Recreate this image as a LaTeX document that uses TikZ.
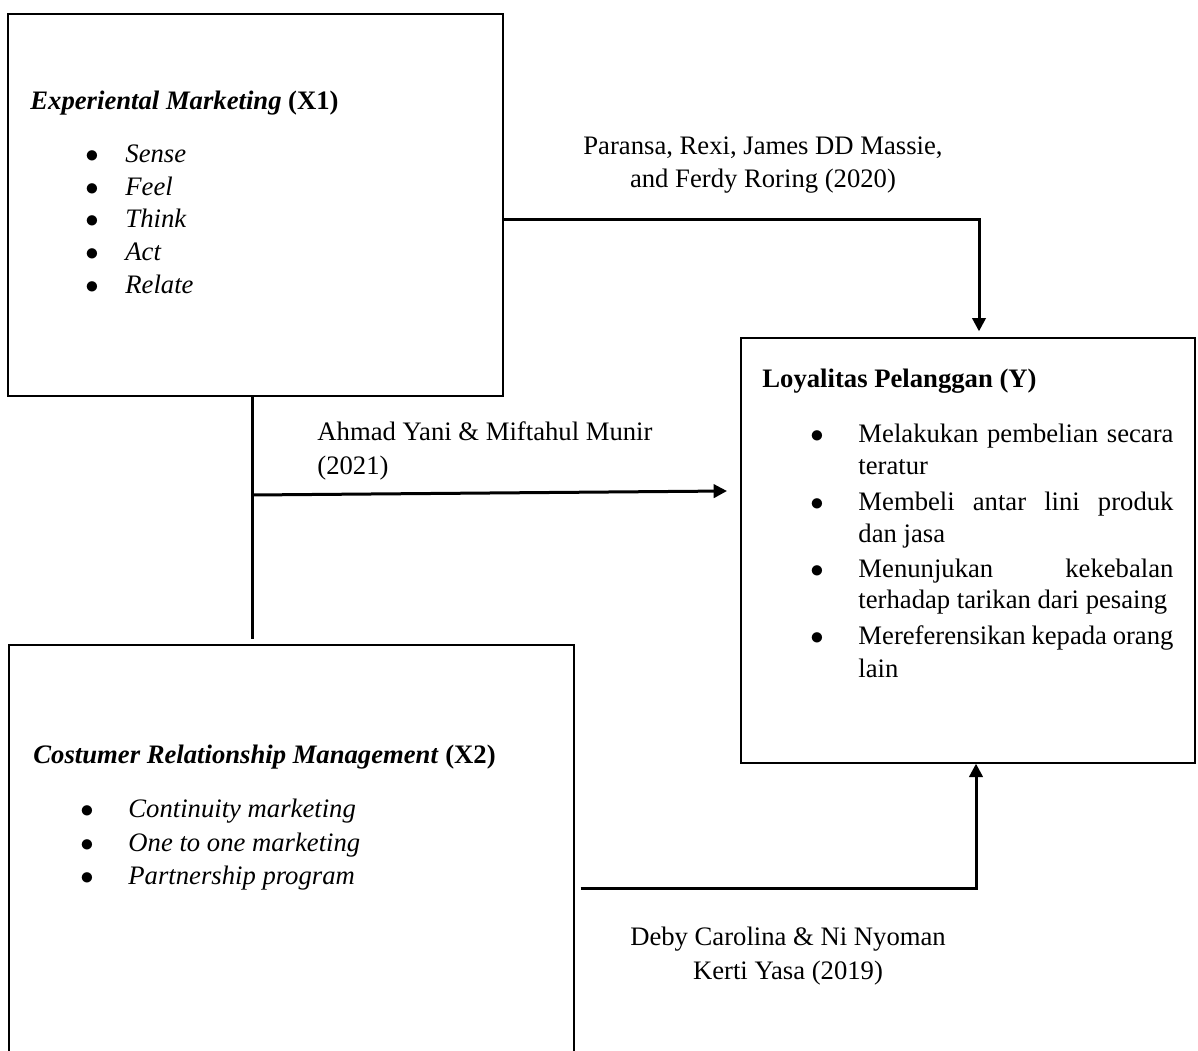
\documentclass[tikz,border=0pt]{standalone}
\usepackage{fontspec}
\setmainfont{Liberation Serif}
\usetikzlibrary{positioning,fit,calc,arrows.meta}

\begin{document}
\begin{tikzpicture}[x=0.45pt,y=-0.45pt,
                    every node/.style={font=\fontsize{12}{15}\selectfont},
                    var box/.style={draw,line width=0.6pt,inner sep=0pt},
                    txt/.style={anchor=base west,inner sep=0pt},
                    dot/.style={anchor=base,inner sep=0pt},
                    ref/.style={inner sep=0pt},
                    link/.style={line width=1.35pt},
                    arr/.style={link,-{Triangle[length=6pt,width=6pt]}}]
  \clip (0,0) rectangle (1198,1050);
  % the three variable boxes
  \node[var box,fit={(8,14) (503,396)}] (x1) {};
  \node[var box,fit={(741,338) (1195,763)}] (y) {};
  \node[var box,fit={(9,645) (574,1080)}] (x2) {};

  \node[txt] (x1t) at (30,110) {\textbf{\textit{Experiental Marketing}} \textbf{(X1)}};
  \foreach \w [count=\i] in {Sense,Feel,Think,Act,Relate} {
    \node[dot] (x1d\i) at (92,{130.5+32.5*\i}) {$\bullet$};
    \node[txt] (x1i\i) at (125,{130.5+32.5*\i}) {\textit{\w}};
  }

  \node[txt] (yt) at (762,387) {\textbf{Loyalitas Pelanggan (Y)}};
  \foreach \b [count=\i] in {442,510,577,644}
    \node[dot] (yd\i) at (817,\b) {$\bullet$};
  \node[txt] (yi1) at (858,442) {\makebox[141.75pt][s]{Melakukan pembelian secara}};
  \node[txt] (yi1b) at (858,474) {teratur};
  \node[txt] (yi2) at (858,510) {\makebox[141.75pt][s]{Membeli antar lini produk}};
  \node[txt] (yi2b) at (858,542) {dan jasa};
  \node[txt] (yi3) at (858,577) {\makebox[141.75pt][s]{Menunjukan kekebalan}};
  \node[txt] (yi3b) at (858,608) {terhadap tarikan dari pesaing};
  \node[txt] (yi4) at (858,644) {\makebox[141.75pt][s]{Mereferensikan kepada orang}};
  \node[txt] (yi4b) at (858,677) {lain};

  \node[txt] (x2t) at (33,763) {\textbf{\textit{Costumer Relationship Management}} \textbf{(X2)}};
  \foreach \w/\b [count=\i] in {Continuity marketing/817,One to one marketing/851,Partnership program/884} {
    \node[dot] (x2d\i) at (87,\b) {$\bullet$};
    \node[txt] (x2i\i) at (128,\b) {\textit{\w}};
  }

  % references on the links (base = last line)
  \node[ref,anchor=base,align=center] (r1) at (763,188) {Paransa, Rexi, James DD Massie,\\and Ferdy Roring (2020)};
  \node[ref,anchor=base west,align=left] (r2) at (317,474) {Ahmad Yani \& Miftahul Munir\\(2021)};
  \node[ref,anchor=base,align=center] (r3) at (788,979) {Deby Carolina \& Ni Nyoman\\Kerti Yasa (2019)};

  \coordinate (k1) at (979,220);
  \coordinate (j) at (252,495);
  \coordinate (jend) at (252,639);
  \coordinate (ya) at (727,491);
  \coordinate (k3) at (976,888);

  \draw[arr,shorten >=2.7pt] (x1.east |- k1) -| (y.north -| k1);
  \draw[link] (x1.south -| j) -- (jend);
  \draw[arr] (j) -- (ya);
  \draw[arr] ([xshift=2.7pt]x2.east |- k3) -| (y.south -| k3);
\end{tikzpicture}
\end{document}
